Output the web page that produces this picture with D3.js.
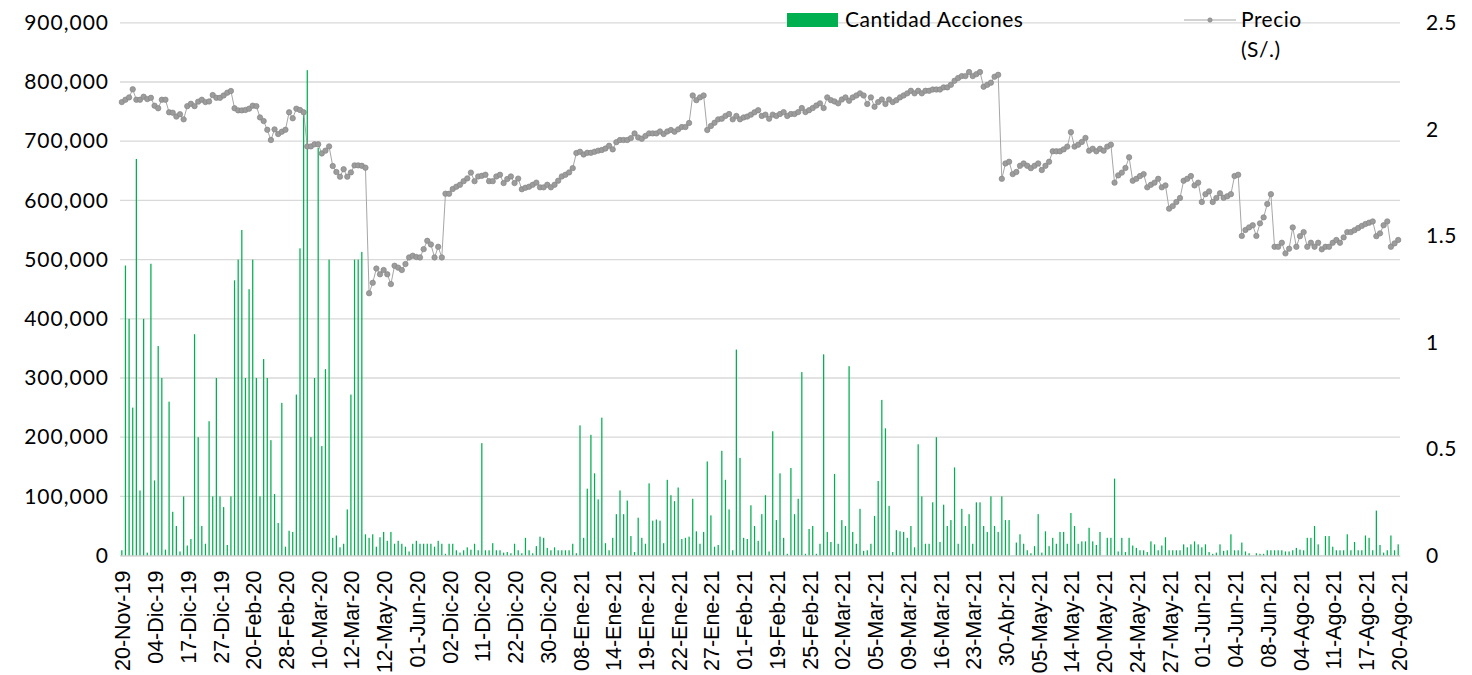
<!DOCTYPE html>
<html>
<head>
<meta charset="utf-8">
<script src="https://cdn.jsdelivr.net/npm/d3@7"></script>
<style>
  html, body { margin: 0; padding: 0; background: #fff; }
  svg { display: block; }
</style>
</head>
<body>
<svg id="chart" width="1472" height="675"></svg>
<script>
// Category tick labels (every 9th category is labelled)
const tickLabels = ["20-Nov-19","04-Dic-19","17-Dic-19","27-Dic-19","20-Feb-20","28-Feb-20","10-Mar-20","12-Mar-20","12-May-20","01-Jun-20","02-Dic-20","11-Dic-20","22-Dic-20","30-Dic-20","08-Ene-21","14-Ene-21","19-Ene-21","22-Ene-21","27-Ene-21","01-Feb-21","19-Feb-21","25-Feb-21","02-Mar-21","05-Mar-21","09-Mar-21","16-Mar-21","23-Mar-21","30-Abr-21","05-May-21","14-May-21","20-May-21","24-May-21","27-May-21","01-Jun-21","04-Jun-21","08-Jun-21","04-Ago-21","11-Ago-21","17-Ago-21","20-Ago-21"];
const tickEvery = 9;

// Cantidad Acciones (bars, left axis)
const cantidad = [
9000,490000,400000,250000,670000,110000,400000,5000,493000,127000,
354000,300000,10000,260000,74000,50000,7000,100000,17000,28000,
374000,200000,50000,20000,227000,100000,300000,100000,82000,18000,
100000,465000,500000,550000,300000,450000,500000,300000,100000,332000,
300000,195000,104000,55000,258000,15000,42000,40000,272000,519000,
750000,820000,200000,300000,689000,185000,315000,500000,30000,34000,
14000,20000,78000,272000,500000,500000,513000,36000,30000,36000,
15000,31000,40000,25000,40000,20000,25000,20000,15000,7000,
20000,25000,20000,20000,20000,20000,15000,25000,20000,3000,
20000,20000,9000,5000,9000,14000,10000,20000,9000,190000,
9000,9000,21000,9000,9000,5000,6000,4000,20000,9000,
4000,30000,9000,4000,16000,32000,30000,13000,9000,14000,
9000,9000,9000,9000,20000,4000,220000,30000,113000,204000,
139000,95000,233000,21000,9000,30000,70000,110000,70000,93000,
33000,6000,64000,30000,20000,122000,59000,61000,59000,21000,
128000,102000,92000,115000,28000,30000,32000,96000,41000,20000,
40000,159000,68000,15000,18000,177000,128000,78000,9000,348000,
165000,30000,28000,85000,50000,25000,70000,102000,7000,210000,
60000,139000,30000,3000,148000,70000,96000,310000,3000,45000,
50000,3000,20000,340000,40000,23000,138000,20000,60000,50000,
320000,40000,20000,79000,8000,9000,20000,67000,126000,263000,
215000,84000,6000,43000,41000,40000,30000,50000,14000,188000,
100000,20000,20000,90000,200000,23000,86000,50000,60000,149000,
20000,79000,50000,70000,20000,90000,90000,50000,40000,100000,
50000,40000,100000,60000,60000,0,22000,36000,20000,9000,
4000,16000,70000,5000,41000,16000,30000,20000,40000,40000,
20000,72000,50000,20000,24000,24000,47000,24000,18000,40000,
0,30000,30000,130000,7000,30000,6000,30000,17000,13000,
9000,9000,6000,24000,19000,9000,17000,31000,9000,9000,
9000,9000,19000,14000,19000,24000,19000,14000,19000,6000,
3000,5000,19000,8000,9000,36000,9000,9000,22000,7000,
4000,0,4000,3000,3000,9000,9000,9000,9000,9000,
7000,7000,9000,13000,10000,9000,30000,30000,50000,19000,
0,33000,33000,15000,9000,9000,9000,36000,9000,23000,
9000,9000,34000,30000,9000,76000,18000,5000,9000,34000,
9000,19000];

// Precio (S/.) (line, right axis)
const precio = [
2.128,2.139,2.150,2.188,2.139,2.139,2.153,2.142,2.148,2.111,
2.099,2.139,2.139,2.080,2.078,2.060,2.071,2.047,2.109,2.120,
2.109,2.130,2.139,2.128,2.131,2.161,2.148,2.148,2.159,2.172,
2.180,2.099,2.089,2.089,2.091,2.097,2.111,2.109,2.056,2.039,
1.998,1.950,2.000,1.978,1.989,1.998,2.080,2.052,2.097,2.091,
2.080,1.920,1.920,1.930,1.930,1.887,1.900,1.920,1.828,1.800,
1.778,1.813,1.778,1.798,1.831,1.831,1.829,1.820,1.231,1.280,
1.347,1.320,1.340,1.320,1.274,1.360,1.351,1.340,1.368,1.399,
1.407,1.401,1.399,1.438,1.477,1.460,1.399,1.449,1.399,1.698,
1.698,1.720,1.731,1.740,1.757,1.770,1.797,1.757,1.779,1.782,
1.787,1.757,1.757,1.779,1.787,1.748,1.767,1.779,1.748,1.769,
1.719,1.726,1.731,1.740,1.750,1.728,1.728,1.740,1.728,1.740,
1.759,1.779,1.787,1.798,1.818,1.889,1.895,1.882,1.890,1.890,
1.895,1.900,1.903,1.910,1.923,1.906,1.940,1.950,1.950,1.950,
1.959,1.981,1.962,1.956,1.969,1.981,1.981,1.981,1.990,1.978,
1.990,1.997,1.989,2.000,2.011,2.011,2.030,2.159,2.137,2.150,
2.159,1.997,2.016,2.031,2.047,2.050,2.063,2.072,2.047,2.063,
2.047,2.056,2.060,2.069,2.080,2.090,2.063,2.069,2.050,2.069,
2.063,2.072,2.081,2.063,2.072,2.072,2.081,2.100,2.081,2.090,
2.100,2.112,2.122,2.100,2.150,2.137,2.131,2.122,2.140,2.150,
2.134,2.150,2.159,2.169,2.159,2.119,2.150,2.106,2.128,2.140,
2.119,2.140,2.128,2.137,2.150,2.159,2.169,2.181,2.169,2.181,
2.169,2.181,2.181,2.187,2.187,2.187,2.197,2.197,2.209,2.228,
2.241,2.250,2.250,2.269,2.250,2.259,2.269,2.200,2.209,2.219,
2.247,2.256,1.768,1.840,1.848,1.790,1.800,1.829,1.840,1.829,
1.818,1.829,1.840,1.809,1.829,1.848,1.897,1.897,1.897,1.906,
1.919,1.987,1.919,1.928,1.941,1.960,1.900,1.909,1.897,1.909,
1.900,1.919,1.928,1.750,1.784,1.797,1.819,1.869,1.759,1.768,
1.781,1.790,1.728,1.740,1.750,1.768,1.728,1.737,1.628,1.640,
1.659,1.678,1.759,1.768,1.781,1.737,1.750,1.659,1.696,1.709,
1.659,1.678,1.700,1.679,1.686,1.696,1.781,1.787,1.500,1.528,
1.540,1.550,1.500,1.559,1.587,1.650,1.696,1.449,1.449,1.468,
1.418,1.440,1.540,1.449,1.499,1.518,1.449,1.468,1.449,1.468,
1.437,1.449,1.449,1.468,1.481,1.468,1.493,1.518,1.518,1.527,
1.537,1.547,1.556,1.562,1.568,1.499,1.512,1.550,1.568,1.449,
1.465,1.481];

const leftTicks = [0,100000,200000,300000,400000,500000,600000,700000,800000,900000];
const rightTicks = [0,0.5,1,1.5,2,2.5];
const seriesNames = ["Cantidad Acciones", "Precio", "(S/.)"];

// ---------- drawing ----------
const svg = d3.select("#chart");
const plot = {left: 120, right: 1400, top: 22.8, bottom: 555.6};
const N = cantidad.length;

const x = d3.scaleBand().domain(d3.range(N)).range([plot.left, plot.right]).padding(0);
const yL = d3.scaleLinear().domain([0, 900000]).range([plot.bottom, plot.top]);
const yR = d3.scaleLinear().domain([0, 2.5]).range([plot.bottom, plot.top]);
const cx = i => x(i) + x.bandwidth() / 2;

const tickFont = "Lato, 'Open Sans', sans-serif";

// gridlines
svg.append("g").selectAll("line").data(leftTicks).join("line")
  .attr("x1", plot.left).attr("x2", plot.right)
  .attr("y1", d => yL(d)).attr("y2", d => yL(d))
  .attr("stroke", "#d9d9d9").attr("stroke-width", 1.3);

// bars
const barW = 1.25;
svg.append("g").selectAll("rect").data(cantidad).join("rect")
  .attr("x", (d, i) => cx(i) - barW / 2)
  .attr("y", d => yL(d))
  .attr("width", barW)
  .attr("height", d => plot.bottom - yL(d))
  .attr("fill", "#00b050");

// price line
const line = d3.line().x((d, i) => cx(i)).y(d => yR(d));
svg.append("path").datum(precio)
  .attr("d", line).attr("fill", "none")
  .attr("stroke", "#a6a6a6").attr("stroke-width", 1);

svg.append("g").selectAll("circle").data(precio).join("circle")
  .attr("cx", (d, i) => cx(i)).attr("cy", d => yR(d)).attr("r", 2.7)
  .attr("fill", "#9c9c9c").attr("stroke", "#878787").attr("stroke-width", 0.7);

// left axis
const axL = svg.append("g").attr("transform", `translate(${plot.left},0)`)
  .call(d3.axisLeft(yL).tickValues(leftTicks).tickFormat(d3.format(",")).tickSize(0).tickPadding(11));
axL.select(".domain").remove();
axL.selectAll("text").attr("font-family", tickFont).attr("font-size", 21)
  .attr("letter-spacing", "1px").attr("fill", "#000");

// right axis
const axR = svg.append("g").attr("transform", `translate(${plot.right},0)`)
  .call(d3.axisRight(yR).tickValues(rightTicks).tickFormat(d => String(d)).tickSize(0).tickPadding(26));
axR.select(".domain").remove();
axR.selectAll("text").attr("font-family", tickFont).attr("font-size", 21)
  .attr("letter-spacing", "0.5px").attr("fill", "#000");

// bottom axis
const tickIdx = d3.range(0, N, tickEvery);
const axB = svg.append("g").attr("transform", `translate(0,${plot.bottom})`)
  .call(d3.axisBottom(x).tickValues(tickIdx).tickFormat((d, k) => tickLabels[k]).tickSize(0));
axB.select(".domain").attr("stroke", "#d9d9d9").attr("stroke-width", 1.3);
axB.selectAll("text")
  .attr("font-family", "'Liberation Sans', Arial, sans-serif")
  .attr("font-size", 21.5).attr("fill", "#000")
  .attr("text-anchor", "end")
  .attr("dy", "0.35em")
  .attr("transform", "translate(1,15) rotate(-90)")
  .attr("x", 0).attr("y", 0);

// legend
const lg = svg.append("g");
const legendText = (xPos, yPos, t) => lg.append("text").attr("x", xPos).attr("y", yPos).text(t)
  .attr("font-family", tickFont).attr("font-size", 21).attr("letter-spacing", "0.5px").attr("fill", "#000");
lg.append("rect").attr("x", 787).attr("y", 13).attr("width", 51).attr("height", 14).attr("fill", "#00b050");
legendText(845, 27, seriesNames[0]);
lg.append("line").attr("x1", 1184).attr("x2", 1236).attr("y1", 20).attr("y2", 20)
  .attr("stroke", "#a6a6a6").attr("stroke-width", 1);
lg.append("circle").attr("cx", 1210).attr("cy", 20).attr("r", 2.2)
  .attr("fill", "#9c9c9c").attr("stroke", "#878787").attr("stroke-width", 0.6);
legendText(1241, 27, seriesNames[1]);
legendText(1241, 57, seriesNames[2]);
</script>
</body>
</html>
